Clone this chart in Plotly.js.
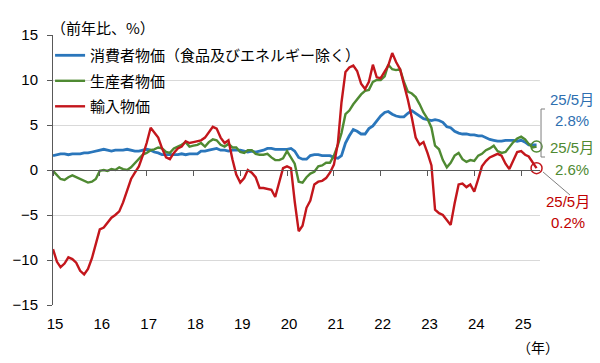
<!DOCTYPE html>
<html>
<head>
<meta charset="utf-8">
<script src="https://cdn.plot.ly/plotly-3.0.1.min.js"></script>
<style>
  html, body { margin: 0; padding: 0; background: #ffffff; }
  #chart { width: 600px; height: 363px; }
</style>
</head>
<body>
<div id="chart"></div>
<script>
// ---- Data (monthly, Jan 2015 - May 2025, YoY %) ----
const startYear = 2015;
const endYear = 2025;
const endMonth = 5;

const seriesNames = ["消費者物価（食品及びエネルギー除く）", "生産者物価", "輸入物価"];

const coreCPI = [
  1.6,1.7,1.8,1.8,1.7,1.8,1.8,1.8,1.9,1.9,2.0,2.1,
  2.2,2.3,2.2,2.1,2.2,2.2,2.2,2.3,2.2,2.1,2.1,2.2,
  2.3,2.2,2.0,1.9,1.7,1.7,1.7,1.7,1.7,1.8,1.7,1.8,
  1.8,1.8,2.1,2.1,2.2,2.3,2.4,2.2,2.2,2.1,2.2,2.2,
  2.2,2.1,2.0,2.1,2.0,2.1,2.2,2.4,2.4,2.3,2.3,2.3,
  2.3,2.4,2.1,1.4,1.2,1.2,1.6,1.7,1.7,1.6,1.6,1.6,
  1.4,1.3,1.6,3.0,3.8,4.5,4.3,4.0,4.0,4.6,4.9,5.5,
  6.0,6.4,6.5,6.2,6.0,5.9,5.9,6.3,6.6,6.3,6.0,5.7,
  5.6,5.5,5.6,5.5,5.3,4.8,4.7,4.3,4.1,4.0,4.0,3.9,
  3.9,3.8,3.8,3.6,3.4,3.3,3.2,3.2,3.3,3.3,3.3,3.2,
  3.3,3.1,2.8,2.8,2.8
];

const ppi = [
  -0.1,-0.6,-1.0,-1.1,-0.8,-0.6,-0.8,-1.0,-1.2,-1.4,-1.3,-1.0,
  -0.1,0.0,-0.1,0.1,0.0,0.3,0.1,0.0,0.3,0.8,1.3,1.7,
  1.9,2.2,2.3,2.5,2.4,2.0,1.9,2.4,2.6,2.8,3.1,2.6,
  2.7,2.8,3.0,2.6,3.1,3.4,3.3,2.8,2.6,2.9,2.5,2.5,
  2.0,1.9,2.2,2.2,1.8,1.7,1.7,1.8,1.4,1.1,1.1,1.3,
  2.1,1.3,0.7,-1.3,-1.4,-0.8,-0.4,-0.2,0.4,0.5,0.8,0.8,
  1.6,2.8,4.1,6.2,6.6,7.3,7.9,8.4,8.8,8.9,9.8,10.0,
  10.0,10.4,11.7,11.2,11.1,11.2,9.8,8.7,8.5,8.1,7.3,6.4,
  5.7,4.7,2.7,2.3,1.1,0.3,0.8,1.6,1.9,1.2,0.9,1.1,
  1.0,1.6,1.8,2.2,2.4,2.7,2.1,1.9,2.0,2.6,3.1,3.5,
  3.7,3.4,2.9,2.5,2.6
];

const importPrices = [
  -8.8,-10.2,-10.8,-10.4,-9.7,-9.9,-10.3,-11.2,-11.6,-11.0,-9.8,-8.3,
  -6.6,-6.4,-5.9,-5.3,-5.0,-4.6,-3.6,-2.2,-1.0,-0.3,0.4,1.6,
  3.0,4.7,4.2,3.6,2.4,1.4,1.2,1.9,2.4,2.6,3.2,3.0,
  3.1,3.2,3.3,3.6,4.2,4.8,4.6,3.6,3.0,3.3,1.2,-0.5,
  -1.4,-0.9,0.0,-0.3,-0.8,-2.0,-2.0,-2.1,-2.2,-3.0,-1.5,0.2,
  0.4,0.2,-3.5,-6.8,-6.2,-4.2,-3.4,-1.6,-1.3,-1.2,-0.9,-0.3,
  0.6,3.0,7.5,10.9,11.4,11.6,11.0,9.6,9.0,9.8,11.7,10.3,
  10.2,10.9,11.6,13.0,12.0,11.2,9.6,7.8,5.8,3.6,2.8,3.1,
  1.9,0.5,-4.4,-4.8,-5.0,-5.6,-6.1,-3.7,-1.6,-1.5,-1.9,-1.6,
  -2.4,-1.0,0.4,1.0,1.4,1.6,1.8,1.6,0.7,0.1,1.0,2.0,
  2.1,1.7,1.5,0.8,0.2
];

const seriesColors = ["#2a76bb", "#4f8a32", "#c3161c"];
const labelColors = ["#2e6fb0", "#4f8a32", "#c00000"];
const endLabel = "25/5月";
const endValues = ["2.8%", "2.6%", "0.2%"];

// month axis (categories as dates)
const months = [];
for (let y = startYear; y <= endYear; y++) {
  for (let m = 1; m <= 12; m++) {
    if (y === endYear && m > endMonth) break;
    months.push(y + "-" + String(m).padStart(2, "0") + "-01");
  }
}
const lastX = months[months.length - 1];

const fontFamily = "'Liberation Sans', Arial, 'Noto Sans CJK JP', sans-serif";
const cjkFamily = "'Noto Sans CJK JP', 'Liberation Sans', sans-serif";

const xRange = ["2015-01-01", "2025-05-28"];

const traces = [
  { x: months, y: coreCPI, name: seriesNames[0], type: "scatter", mode: "lines",
    line: { color: seriesColors[0], width: 2.8 }, legendgroup: "a", hoverinfo: "skip" },
  { x: months, y: ppi, name: seriesNames[1], type: "scatter", mode: "lines",
    line: { color: seriesColors[1], width: 2.4 }, legendgroup: "b", hoverinfo: "skip" },
  { x: months, y: importPrices, name: seriesNames[2], type: "scatter", mode: "lines",
    line: { color: seriesColors[2], width: 2.4 }, legendgroup: "c", hoverinfo: "skip" },
  // end markers (hollow circles)
  { x: [lastX], y: [ppi[ppi.length - 1]], type: "scatter", mode: "markers", showlegend: false,
    cliponaxis: false, hoverinfo: "skip",
    marker: { symbol: "circle-open", size: 11, color: seriesColors[1], line: { width: 1.5 } } },
  { x: [lastX], y: [importPrices[importPrices.length - 1]], type: "scatter", mode: "markers", showlegend: false,
    cliponaxis: false, hoverinfo: "skip",
    marker: { symbol: "circle-open", size: 11, color: seriesColors[2], line: { width: 1.5 } } },
  // dummy trace for the tick axis drawn along zero
  { x: [], y: [], xaxis: "x2", type: "scatter", mode: "lines", showlegend: false, hoverinfo: "skip" }
];

const axisColor = "#595959";

const layout = {
  width: 600, height: 363,
  margin: { l: 53, r: 60, t: 35, b: 58 },
  paper_bgcolor: "#ffffff",
  plot_bgcolor: "#ffffff",
  font: { family: fontFamily, size: 15, color: "#000000" },
  showlegend: true,
  legend: {
    x: -0.006, y: 0.985, xanchor: "left", yanchor: "top",
    bgcolor: "rgba(0,0,0,0)",
    font: { family: cjkFamily, size: 15, color: "#000000" },
    tracegroupgap: 3,
    itemwidth: 30
  },
  xaxis: {
    type: "date", range: xRange,
    tick0: "2015-01-01", dtick: "M12", tickformat: "%y",
    showgrid: false, zeroline: false, showline: false,
    ticks: "", ticklabelstandoff: 8, ticklabelshift: 2,
    tickfont: { family: fontFamily, size: 15, color: "#000000" }
  },
  xaxis2: {
    type: "date", range: xRange, overlaying: "x", anchor: "free", position: 0.5, side: "bottom",
    tick0: "2015-01-01", dtick: "M12",
    showgrid: false, zeroline: false, showline: true, linecolor: axisColor, linewidth: 1,
    ticks: "outside", ticklen: 5, tickcolor: axisColor, tickwidth: 1,
    showticklabels: false
  },
  yaxis: {
    range: [-15, 15], dtick: 5, tick0: 0,
    showgrid: true, gridcolor: "#d9d9d9", gridwidth: 1,
    zeroline: false,
    showline: true, linecolor: axisColor, linewidth: 1,
    ticks: "outside", ticklen: 5, tickcolor: axisColor,
    ticklabelstandoff: 6,
    tickfont: { family: fontFamily, size: 15, color: "#000000" }
  },
  shapes: [
    // bracket linking blue & green labels to the circle
    { type: "path", xref: "paper", yref: "paper",
      path: "M 1.0103 0.7259 L 1.0021 0.7259 L 1.0021 0.5481 L 1.0103 0.5481",
      line: { color: "#7f7f7f", width: 1 } },
    // connector for red label
    { type: "line", xref: "paper", yref: "paper",
      x0: 1.0062, y0: 0.4926, x1: 1.0616, y1: 0.4074,
      line: { color: "#7f7f7f", width: 1 } }
  ],
  annotations: [
    { text: "（前年比、%）", xref: "paper", yref: "paper", x: -0.008, y: 1.028,
      xanchor: "left", yanchor: "middle", showarrow: false,
      font: { family: cjkFamily, size: 15, color: "#000000" } },
    { text: "（年）", xref: "paper", yref: "paper", x: 0.996, y: -0.156,
      xanchor: "center", yanchor: "middle", showarrow: false,
      font: { family: cjkFamily, size: 14, color: "#000000" } },
    { text: endLabel, xref: "paper", yref: "paper", x: 1.0657, y: 0.7593,
      xanchor: "center", yanchor: "middle", showarrow: false,
      font: { family: fontFamily, size: 15, color: labelColors[0] } },
    { text: endValues[0], xref: "paper", yref: "paper", x: 1.0657, y: 0.6815,
      xanchor: "center", yanchor: "middle", showarrow: false,
      font: { family: fontFamily, size: 15, color: labelColors[0] } },
    { text: endLabel, xref: "paper", yref: "paper", x: 1.0657, y: 0.5815,
      xanchor: "center", yanchor: "middle", showarrow: false,
      font: { family: fontFamily, size: 15, color: labelColors[1] } },
    { text: endValues[1], xref: "paper", yref: "paper", x: 1.0657, y: 0.5037,
      xanchor: "center", yanchor: "middle", showarrow: false,
      font: { family: fontFamily, size: 15, color: labelColors[1] } },
    { text: endLabel, xref: "paper", yref: "paper", x: 1.0575, y: 0.3815,
      xanchor: "center", yanchor: "middle", showarrow: false,
      font: { family: fontFamily, size: 15, color: labelColors[2] } },
    { text: endValues[2], xref: "paper", yref: "paper", x: 1.0575, y: 0.3074,
      xanchor: "center", yanchor: "middle", showarrow: false,
      font: { family: fontFamily, size: 15, color: labelColors[2] } }
  ]
};

Plotly.newPlot("chart", traces, layout, { displayModeBar: false, staticPlot: true });
</script>
</body>
</html>
